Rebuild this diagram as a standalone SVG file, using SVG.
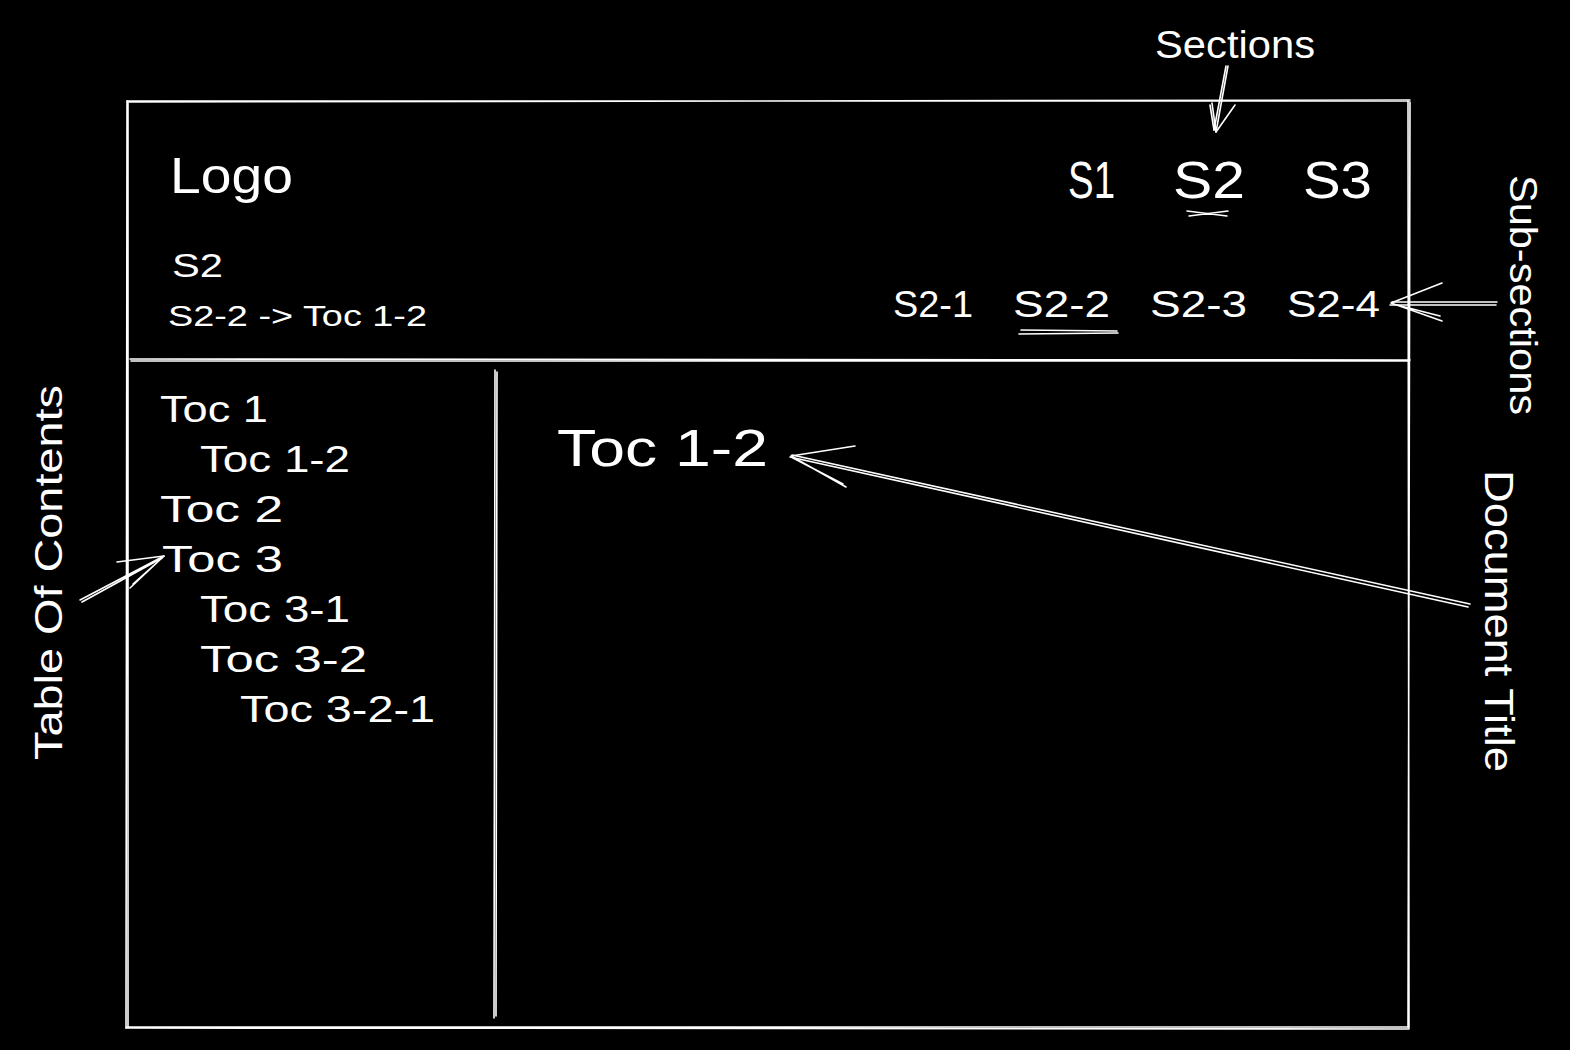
<svg xmlns="http://www.w3.org/2000/svg" width="1570" height="1050" viewBox="0 0 1570 1050">
<style>
.t{fill:#fff;font-family:"Liberation Sans","DejaVu Sans",sans-serif}
.l{stroke:#fff;stroke-width:1.6;fill:none;stroke-linecap:round;stroke-linejoin:round}
</style>
<rect width="1570" height="1050" fill="#000"/>
<g id="frame">
<path class="l" d="M127 101 L1409 101 M128 102 L1410 100"/>
<path class="l" d="M1408 101 L1409 1028 M1410 102 L1408 1027"/>
<path class="l" d="M126 1028 L1409 1029 M127 1027 L1408 1027"/>
<path class="l" d="M127 101 L126 1028 M128 103 L128 1027"/>
<path class="l" d="M130 359 L1410 360 M131 361 L1409 361"/>
<path class="l" d="M495 370 L494 1018 M497 372 L496 1016"/>
</g>
<g id="header">
<text class="t" x="170" y="193" font-size="50" textLength="123" lengthAdjust="spacingAndGlyphs">Logo</text>
<text class="t" x="1068" y="198" font-size="52" textLength="47" lengthAdjust="spacingAndGlyphs">S1</text>
<text class="t" x="1173" y="198" font-size="52" textLength="72" lengthAdjust="spacingAndGlyphs">S2</text>
<text class="t" x="1303" y="198" font-size="52" textLength="69" lengthAdjust="spacingAndGlyphs">S3</text>
<path class="l" d="M1187 211 L1227 216 M1189 216 L1228 211"/>
<text class="t" x="172" y="277" font-size="34" textLength="51" lengthAdjust="spacingAndGlyphs">S2</text>
<text class="t" x="168" y="326" font-size="29" textLength="259" lengthAdjust="spacingAndGlyphs">S2-2 -&gt; Toc 1-2</text>
<text class="t" x="893" y="317" font-size="36" textLength="80" lengthAdjust="spacingAndGlyphs">S2-1</text>
<text class="t" x="1013" y="317" font-size="36" textLength="97" lengthAdjust="spacingAndGlyphs">S2-2</text>
<text class="t" x="1150" y="317" font-size="36" textLength="97" lengthAdjust="spacingAndGlyphs">S2-3</text>
<text class="t" x="1287" y="317" font-size="36" textLength="93" lengthAdjust="spacingAndGlyphs">S2-4</text>
<path class="l" d="M1021 330 L1117 331 M1019 334 L1118 333"/>
</g>
<g id="toc">
<text class="t" x="160" y="422" font-size="36" textLength="108" lengthAdjust="spacingAndGlyphs">Toc 1</text>
<text class="t" x="200" y="472" font-size="36" textLength="150" lengthAdjust="spacingAndGlyphs">Toc 1-2</text>
<text class="t" x="160" y="522" font-size="36" textLength="123" lengthAdjust="spacingAndGlyphs">Toc 2</text>
<text class="t" x="162" y="572" font-size="36" textLength="121" lengthAdjust="spacingAndGlyphs">Toc 3</text>
<text class="t" x="200" y="622" font-size="36" textLength="150" lengthAdjust="spacingAndGlyphs">Toc 3-1</text>
<text class="t" x="200" y="672" font-size="36" textLength="167" lengthAdjust="spacingAndGlyphs">Toc 3-2</text>
<text class="t" x="240" y="722" font-size="36" textLength="195" lengthAdjust="spacingAndGlyphs">Toc 3-2-1</text>
</g>
<g id="title">
<text class="t" x="557" y="466" font-size="52" textLength="211" lengthAdjust="spacingAndGlyphs">Toc 1-2</text>
</g>
<g id="annotations">
<text class="t" x="1155" y="58" font-size="38" textLength="160" lengthAdjust="spacingAndGlyphs">Sections</text>
<text class="t" font-size="38" textLength="240" lengthAdjust="spacingAndGlyphs" transform="translate(1510 175) rotate(90)">Sub-sections</text>
<text class="t" font-size="40" textLength="302" lengthAdjust="spacingAndGlyphs" transform="translate(1485 470) rotate(90)">Document Title</text>
<text class="t" font-size="38" textLength="375" lengthAdjust="spacingAndGlyphs" transform="translate(62 760) rotate(-90)">Table Of Contents</text>
</g>
<g id="connectors">
<path class="l" d="M1228 66 L1216 132 M1226 66 L1214 130"/>
<path class="l" d="M1216 132 L1212 103 M1216 132 L1235 105 M1214 130 L1210 105"/>
<path class="l" d="M1497 302 L1392 302 M1496 305 L1390 305"/>
<path class="l" d="M1391 303 L1442 283 M1391 303 L1442 321 M1393 304 L1440 316"/>
<path class="l" d="M1470 604 L792 455 M1468 607 L790 457"/>
<path class="l" d="M791 456 L855 446 M791 456 L846 487 M793 458 L843 484"/>
<path class="l" d="M80 600 L164 556 M82 602 L162 558"/>
<path class="l" d="M164 556 L117 562 M164 556 L130 588 M162 558 L133 584"/>
</g>
</svg>
